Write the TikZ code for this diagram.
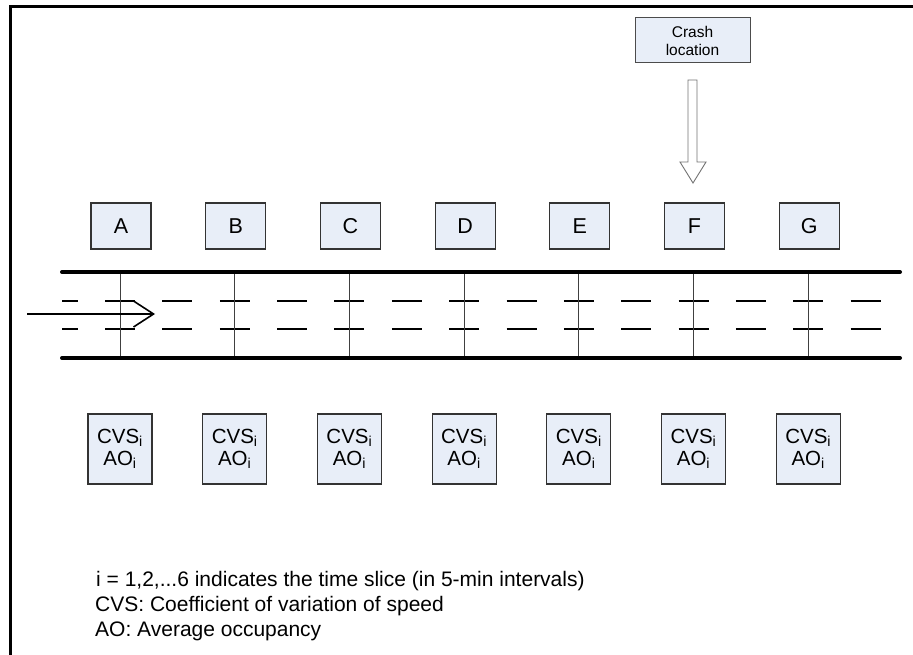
\documentclass[tikz,border=0pt]{standalone}
\usepackage{fontspec}
\setmainfont{Liberation Sans}
\usetikzlibrary{arrows.meta}
\definecolor{boxfill}{RGB}{232,238,248}
\begin{document}
\begin{tikzpicture}[x=1pt,y=-1pt,
  lbox/.style={draw=black!80, line width=1.2pt, fill=boxfill, minimum width=60pt, minimum height=46pt, inner sep=0pt, font=\fontsize{21.5}{24}\selectfont},
  dbox/.style={draw=black!80, line width=1.2pt, fill=boxfill, minimum width=64pt, minimum height=70pt, inner sep=0pt, align=center, font=\fontsize{20.5}{22}\selectfont},
  cbox/.style={draw=black!70, line width=1pt, fill=boxfill, minimum width=115pt, minimum height=45pt, inner sep=0pt, align=center, font=\fontsize{15.5}{18}\selectfont},
  roadline/.style={line width=4pt, line cap=round},
  laneline/.style={line width=2pt},
  sensorline/.style={line width=1pt, draw=black!75},
  legend/.style={anchor=base west, inner sep=0pt, font=\fontsize{21}{24}\selectfont},
  frameline/.style={line width=3pt}
]
\useasboundingbox (0,0) rectangle (913,655);
% frame
\coordinate (fl) at (10,655);
\coordinate (fc) at (10,6.5);
\coordinate (fr) at (913,6.5);
\draw[frameline] (fl) -- (fc) -- (fr);

% lane dashes
\begin{scope}
\clip (62,290) rectangle (900,340);
\foreach \k in {0,...,14}{
  \pgfmathsetmacro{\cx}{62.7+57.35*\k}
  \coordinate (d1a\k) at (\cx-15,301);
  \coordinate (d1b\k) at (\cx+15,301);
  \coordinate (d2a\k) at (\cx-15,329);
  \coordinate (d2b\k) at (\cx+15,329);
  \draw[laneline] (d1a\k) -- (d1b\k);
  \draw[laneline] (d2a\k) -- (d2b\k);
}
\end{scope}

% sensors
\foreach \i/\n in {0/A,1/B,2/C,3/D,4/E,5/F,6/G}{
  \pgfmathsetmacro{\sx}{120+114.7*\i}
  \coordinate (st\n) at (\sx,272);
  \coordinate (sb\n) at (\sx,358);
  \draw[sensorline] (st\n) -- (sb\n);
  \node[lbox] (lab\n) at (\sx+1,226) {\n};
  \node[dbox] (dat\n) at (\sx,449) {CVS\textsubscript{i}\\AO\textsubscript{i}};
}

% road edges
\coordinate (rtl) at (62,272);
\coordinate (rtr) at (900,272);
\coordinate (rbl) at (62,358);
\coordinate (rbr) at (900,358);
\draw[roadline] (rtl) -- (rtr);
\draw[roadline] (rbl) -- (rbr);

% traffic direction arrow
\coordinate (ain) at (27,314);
\coordinate (aout) at (155,314);
\draw[line width=1.6pt, -{Straight Barb[length=20pt,width=26pt,line width=1.6pt]}] (ain) -- (aout);

% crash location
\node[cbox] (crash) at (692.5,40.5) {Crash\\location};
\draw[draw=black!55, fill=white, line width=0.9pt]
  (688,80) -- (697,80) -- (697,162) -- (706,162) -- (693,183) -- (680,162) -- (688,162) -- cycle;

% legend
\node[legend] (leg1) at (96,586) {i = 1,2,...6 indicates the time slice (in 5-min intervals)};
\node[legend] (leg2) at (95,611) {CVS: Coefficient of variation of speed};
\node[legend] (leg3) at (95,636) {AO: Average occupancy};
\end{tikzpicture}
\end{document}
